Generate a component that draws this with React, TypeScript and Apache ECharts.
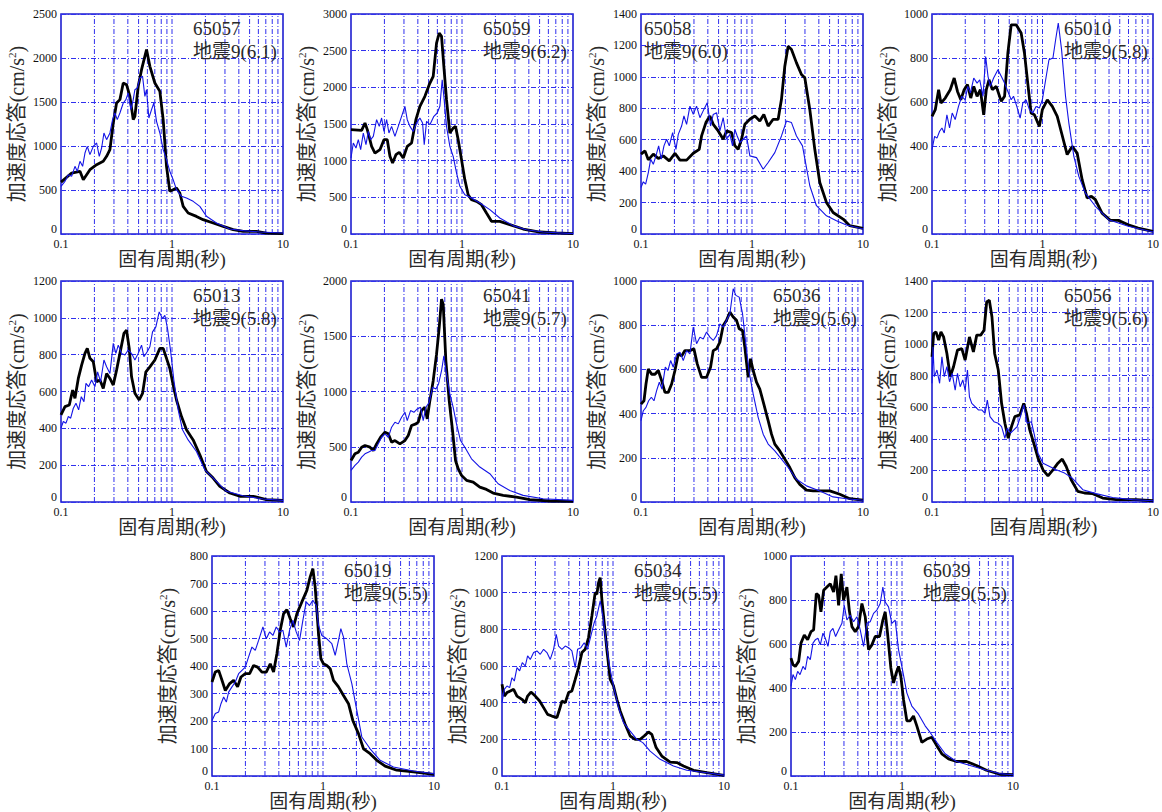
import React, { useEffect, useRef } from "react";
import * as echarts from "echarts";

type Pt = [number, number];

// ---- data: station labels, earthquake labels, axis scales ----
const stations = ["65057", "65059", "65058", "65010", "65013", "65041", "65036", "65056", "65019", "65034", "65039"];
const quakeLabels = ["地震9(6.1)", "地震9(6.2)", "地震9(6.0)", "地震9(5.8)", "地震9(5.8)", "地震9(5.7)", "地震9(5.6)", "地震9(5.6)", "地震9(5.5)", "地震9(5.5)", "地震9(5.5)"];
const yMaxes = [2500, 3000, 1400, 1000, 1200, 2000, 1000, 1400, 800, 1200, 1000];
const yIntervals = [500, 500, 200, 200, 200, 500, 200, 200, 100, 200, 200];
const xMin = 0.1;
const xMax = 10;
const minorPeriods = [0.2, 0.3, 0.4, 0.5, 0.6, 0.7, 0.8, 0.9, 1, 2, 3, 4, 5, 6, 7, 8, 9];
const xAxisTitle = "固有周期(秒)";
const yAxisTitle = "{n|加速度応答(cm/s}{sup|2}{n|)}";

// ---- series values: [period (s), acceleration (cm/s2)] ----
const black65057: Pt[] = [[0.1,590],[0.1247,693],[0.1482,712],[0.1588,617],[0.1823,731],[0.2094,788],[0.2403,826],[0.2575,883],[0.2759,958],[0.2957,1261],[0.3167,1489],[0.3395,1527],[0.3637,1716],[0.3896,1697],[0.4175,1564],[0.4474,1300],[0.4631,1337],[0.4962,1678],[0.5317,1867],[0.5897,2095],[0.6319,1905],[0.7008,1716],[0.7774,1621],[0.8329,1300],[0.8924,769],[0.9563,485],[1.0246,504],[1.098,523],[1.176,466],[1.261,314],[1.398,239],[1.661,200],[1.908,163],[2.348,125],[2.888,87],[3.554,49],[4.372,30],[5.764,30],[7.091,11],[10,4]];
const blue65057: Pt[] = [[0.1,542],[0.1086,598],[0.1164,674],[0.1247,655],[0.1336,769],[0.1402,712],[0.1482,826],[0.1566,769],[0.1644,920],[0.1725,996],[0.1823,902],[0.1954,996],[0.2094,1034],[0.2212,883],[0.2322,977],[0.2437,1148],[0.2575,1072],[0.2759,1148],[0.2916,1300],[0.306,1375],[0.3212,1300],[0.3395,1375],[0.3637,1489],[0.3843,1527],[0.4033,1602],[0.4263,1413],[0.4474,1527],[0.4631,1640],[0.486,1659],[0.5136,1773],[0.5428,1792],[0.5697,1564],[0.5897,1640],[0.6189,1318],[0.6541,1413],[0.6864,1489],[0.7254,1280],[0.7774,1148],[0.8329,958],[0.8924,845],[0.9563,712],[1.0246,617],[1.098,504],[1.218,428],[1.3505,409],[1.551,371],[1.781,314],[2.044,201],[2.516,125],[3.316,57],[4.372,38],[6.176,23],[10,11]];

const black65059: Pt[] = [[0.1,1423],[0.1247,1414],[0.1336,1514],[0.1402,1423],[0.1534,1195],[0.1644,1104],[0.1823,1150],[0.1981,1286],[0.2122,1286],[0.2243,1059],[0.237,968],[0.254,1082],[0.2721,1114],[0.2957,1036],[0.3212,1195],[0.3513,1241],[0.3843,1559],[0.4175,1741],[0.4631,1877],[0.5066,2036],[0.5503,2150],[0.5897,2604],[0.6232,2741],[0.6541,2695],[0.6864,2286],[0.7254,1832],[0.7774,1377],[0.8329,1445],[0.8741,1468],[0.9239,1286],[0.9899,1014],[1.0606,741],[1.1365,536],[1.218,468],[1.3505,445],[1.4985,400],[1.661,286],[1.843,173],[2.19,173],[2.695,127],[3.554,68],[5.02,27],[7.091,14],[10,5]];
const blue65059: Pt[] = [[0.1,1036],[0.1049,1241],[0.1109,1173],[0.1164,1286],[0.1222,1150],[0.1291,1377],[0.1364,1218],[0.1432,1400],[0.1503,1286],[0.1588,1332],[0.1701,1559],[0.1798,1468],[0.1887,1582],[0.1981,1400],[0.2094,1559],[0.2197,1377],[0.2322,1468],[0.2488,1332],[0.2666,1468],[0.2856,1605],[0.306,1741],[0.3212,1559],[0.3395,1468],[0.3637,1400],[0.3896,1514],[0.4175,1582],[0.4413,1514],[0.4568,1218],[0.4794,1536],[0.5136,1491],[0.558,1605],[0.598,1650],[0.6319,1741],[0.6632,2104],[0.6864,1877],[0.7254,1468],[0.7774,1195],[0.8329,1059],[0.8924,832],[0.9563,650],[1.0606,536],[1.218,491],[1.448,423],[1.781,332],[2.19,218],[2.888,114],[3.808,59],[5.38,27],[10,5]];

const black65058: Pt[] = [[0.1,508],[0.1086,529],[0.1164,472],[0.1291,508],[0.1432,480],[0.1588,497],[0.1798,465],[0.2023,514],[0.2243,470],[0.2575,470],[0.2957,514],[0.3348,539],[0.3513,624],[0.3843,709],[0.4175,751],[0.4474,698],[0.4962,656],[0.5503,603],[0.5897,656],[0.6541,645],[0.7008,561],[0.7509,539],[0.8046,603],[0.8621,698],[0.9563,730],[1.0606,751],[1.176,719],[1.278,761],[1.398,687],[1.551,730],[1.7206,730],[1.843,857],[1.975,1068],[2.116,1195],[2.268,1174],[2.516,1089],[2.79,1015],[2.99,994],[3.316,793],[3.678,539],[4.08,328],[4.685,201],[5.38,137],[6.618,95],[7.599,53],[10,36]];
const blue65058: Pt[] = [[0.1,296],[0.1049,332],[0.1101,317],[0.1164,391],[0.1222,476],[0.1291,444],[0.1364,497],[0.1442,561],[0.1523,476],[0.161,561],[0.1701,603],[0.1798,561],[0.1927,645],[0.2065,539],[0.2167,634],[0.2322,687],[0.2437,751],[0.2575,698],[0.2759,814],[0.2957,761],[0.3167,814],[0.3395,740],[0.3687,793],[0.3951,835],[0.4234,687],[0.4474,761],[0.4794,772],[0.5136,656],[0.5503,740],[0.5897,603],[0.6319,634],[0.6678,561],[0.7008,666],[0.7355,624],[0.7774,582],[0.8329,603],[0.8924,624],[0.9563,497],[1.098,486],[1.261,412],[1.398,455],[1.605,518],[1.843,624],[2.044,719],[2.268,709],[2.516,624],[2.849,561],[3.316,307],[3.808,180],[4.685,116],[5.764,85],[7.091,57],[10,32]];

const black65010: Pt[] = [[0.1,535],[0.1071,565],[0.1148,656],[0.1205,595],[0.1318,618],[0.1462,656],[0.1588,709],[0.1701,648],[0.1823,610],[0.1954,656],[0.2094,679],[0.2243,618],[0.2387,671],[0.2558,626],[0.274,656],[0.2936,542],[0.3102,656],[0.3279,701],[0.3513,656],[0.3816,671],[0.4234,603],[0.4536,626],[0.486,823],[0.5208,951],[0.5776,951],[0.6407,914],[0.6864,823],[0.7355,686],[0.7881,550],[0.8444,542],[0.9367,489],[0.9967,565],[1.1055,610],[1.2264,580],[1.3598,535],[1.488,459],[1.672,361],[1.856,398],[2.058,368],[2.284,247],[2.533,164],[2.771,171],[3.011,156],[3.457,95],[4.109,62],[4.849,62],[5.967,42],[7.342,27],[10,12]];
const blue65010: Pt[] = [[0.1,383],[0.1056,444],[0.1109,436],[0.1172,467],[0.123,482],[0.1291,459],[0.1364,542],[0.1442,482],[0.1523,550],[0.1621,520],[0.1737,580],[0.1861,626],[0.1995,610],[0.2108,671],[0.2227,641],[0.2387,709],[0.2558,686],[0.2703,701],[0.2896,626],[0.306,807],[0.3212,717],[0.3371,671],[0.3612,709],[0.3951,747],[0.4234,717],[0.4536,686],[0.486,648],[0.5208,610],[0.5466,626],[0.5856,580],[0.6275,527],[0.6632,595],[0.7106,610],[0.7614,565],[0.8159,550],[0.8741,580],[0.9367,573],[0.9967,610],[1.0681,701],[1.1442,792],[1.2433,800],[1.3147,883],[1.389,959],[1.488,838],[1.616,626],[1.732,504],[1.922,353],[2.131,262],[2.446,186],[3.011,126],[3.969,65],[5.967,35],[10,9]];

const black65013: Pt[] = [[0.1,473],[0.1086,518],[0.1188,527],[0.1273,608],[0.1336,563],[0.1432,671],[0.1534,743],[0.1644,807],[0.1725,834],[0.1823,780],[0.1954,762],[0.2094,653],[0.2243,662],[0.2403,617],[0.2575,698],[0.2759,671],[0.2957,635],[0.3167,716],[0.3395,807],[0.3687,915],[0.3896,933],[0.4118,834],[0.4322,680],[0.4631,590],[0.5066,554],[0.5428,590],[0.5816,707],[0.6319,734],[0.7008,771],[0.7774,834],[0.8329,834],[0.8924,780],[0.9563,725],[1.0246,635],[1.098,554],[1.218,464],[1.3505,392],[1.551,337],[1.781,256],[2.044,166],[2.348,130],[2.695,85],[3.316,49],[4.08,31],[5.38,31],[7.091,13],[10,9]];
const blue65013: Pt[] = [[0.1,401],[0.1049,437],[0.1109,428],[0.1164,464],[0.1222,455],[0.1291,509],[0.1364,536],[0.1442,500],[0.1523,572],[0.161,545],[0.1678,644],[0.1773,626],[0.1887,662],[0.2023,626],[0.2137,707],[0.2274,653],[0.2437,771],[0.2575,734],[0.2759,698],[0.2957,861],[0.3124,807],[0.3279,852],[0.3513,807],[0.3765,798],[0.4033,825],[0.4322,807],[0.4631,771],[0.4962,807],[0.5317,852],[0.558,789],[0.598,816],[0.6319,843],[0.6678,924],[0.7155,951],[0.7667,1032],[0.8215,996],[0.8621,1014],[0.9112,942],[0.9696,825],[1.0389,662],[1.1365,500],[1.2433,392],[1.398,337],[1.661,274],[1.975,175],[2.43,121],[3.095,58],[4.372,34],[6.618,16],[10,9]];

const black65041: Pt[] = [[0.1,376],[0.1086,436],[0.1164,451],[0.1247,496],[0.1336,511],[0.1482,496],[0.1588,466],[0.1701,526],[0.1848,586],[0.2023,632],[0.2167,617],[0.2322,541],[0.2488,556],[0.2759,526],[0.306,556],[0.3279,602],[0.3513,692],[0.3843,707],[0.4033,722],[0.4322,827],[0.4631,857],[0.486,752],[0.5136,917],[0.5503,1098],[0.5897,1338],[0.6232,1579],[0.6541,1835],[0.6771,1790],[0.7155,1278],[0.7667,917],[0.8215,647],[0.8741,376],[0.9239,301],[0.9899,241],[1.098,196],[1.261,180],[1.448,135],[1.661,114],[1.908,81],[2.348,60],[3.095,45],[4.08,21],[6.176,9],[10,6]];
const blue65041: Pt[] = [[0.1,286],[0.1086,331],[0.1164,361],[0.1247,406],[0.1336,436],[0.1432,451],[0.1534,466],[0.1644,466],[0.1761,526],[0.1887,586],[0.2023,617],[0.2167,586],[0.2322,677],[0.2488,722],[0.2666,707],[0.2856,767],[0.306,812],[0.3212,737],[0.3441,827],[0.3687,812],[0.3951,842],[0.4234,857],[0.4474,737],[0.4728,857],[0.5066,902],[0.5428,1038],[0.5816,1023],[0.6147,1068],[0.6541,1188],[0.6864,1323],[0.7254,1158],[0.7774,978],[0.8329,857],[0.8924,707],[0.9696,556],[1.0606,496],[1.218,391],[1.448,316],[1.781,256],[2.116,165],[2.695,105],[3.554,60],[5.38,30],[10,15]];

const black65036: Pt[] = [[0.1,443],[0.1064,458],[0.1109,534],[0.1164,602],[0.1247,578],[0.1336,578],[0.1432,595],[0.1534,549],[0.1644,496],[0.1761,496],[0.1887,534],[0.2023,595],[0.2167,670],[0.2322,661],[0.2488,685],[0.2759,685],[0.2997,693],[0.3212,625],[0.3513,564],[0.3896,564],[0.4234,610],[0.4474,685],[0.4794,693],[0.5136,723],[0.5503,799],[0.5897,822],[0.6319,859],[0.6771,837],[0.7254,822],[0.7667,784],[0.8215,776],[0.8621,700],[0.9239,564],[0.9696,648],[1.0246,595],[1.098,542],[1.176,511],[1.278,443],[1.398,368],[1.4985,307],[1.605,262],[1.781,231],[1.975,194],[2.19,156],[2.43,110],[2.695,80],[3.095,54],[3.554,50],[4.08,50],[5.02,50],[6.176,35],[7.599,15],[10,8]];
const blue65036: Pt[] = [[0.1,368],[0.1049,413],[0.1109,428],[0.1172,458],[0.1239,474],[0.1309,458],[0.1383,504],[0.1462,542],[0.1545,511],[0.1655,610],[0.1749,595],[0.1848,640],[0.1954,610],[0.2094,670],[0.2243,678],[0.2403,640],[0.2575,685],[0.2759,670],[0.2957,791],[0.3167,716],[0.3395,746],[0.3637,738],[0.3896,769],[0.4175,746],[0.4474,731],[0.4794,753],[0.5136,806],[0.5503,791],[0.5897,822],[0.6319,852],[0.6771,965],[0.7155,935],[0.7667,927],[0.8215,852],[0.8802,716],[0.9432,587],[1.0246,489],[1.1365,383],[1.261,307],[1.398,262],[1.605,231],[1.843,194],[2.116,156],[2.516,103],[3.095,73],[4.08,50],[5.38,23],[7.091,15],[10,8]];

const black65056: Pt[] = [[0.1,920],[0.1035,1067],[0.1086,1078],[0.1148,1026],[0.1205,1078],[0.1273,1046],[0.1364,941],[0.1462,794],[0.1566,857],[0.1701,962],[0.1861,972],[0.1995,899],[0.2182,1046],[0.237,951],[0.254,1057],[0.2759,1057],[0.2957,1088],[0.3124,1267],[0.3302,1278],[0.3489,1172],[0.3687,941],[0.3978,836],[0.4263,625],[0.4568,499],[0.4894,404],[0.5244,478],[0.5619,541],[0.6232,552],[0.6771,625],[0.7155,562],[0.7667,457],[0.8329,373],[0.9112,278],[1.0106,204],[1.1209,166],[1.2433,204],[1.379,246],[1.509,272],[1.639,225],[1.818,141],[2.087,67],[2.397,57],[2.849,53],[3.505,25],[4.621,15],[6.994,15],[10,8]];
const blue65056: Pt[] = [[0.1,752],[0.1021,983],[0.1049,794],[0.1109,836],[0.1172,752],[0.123,920],[0.1291,794],[0.1364,857],[0.1442,762],[0.1523,815],[0.1621,709],[0.1701,815],[0.1798,730],[0.19,773],[0.1995,709],[0.2094,836],[0.2182,667],[0.229,625],[0.2454,604],[0.2629,583],[0.2817,583],[0.3018,562],[0.3167,646],[0.3348,541],[0.3637,509],[0.3978,499],[0.4263,478],[0.4568,404],[0.4794,467],[0.5136,436],[0.5503,457],[0.5897,478],[0.6319,541],[0.6771,615],[0.7254,499],[0.7936,509],[0.8503,415],[0.9112,309],[1.0106,246],[1.1603,225],[1.332,204],[1.583,183],[1.856,152],[2.316,78],[3.053,53],[4.312,29],[6.527,15],[10,8]];

const black65019: Pt[] = [[0.1,342],[0.1071,378],[0.1148,384],[0.123,348],[0.1318,311],[0.1442,336],[0.1566,348],[0.1701,324],[0.1823,360],[0.1995,372],[0.2182,372],[0.237,402],[0.2575,396],[0.2817,378],[0.3081,378],[0.3348,408],[0.3587,378],[0.3843,445],[0.4118,530],[0.4413,590],[0.4728,605],[0.5066,572],[0.5428,542],[0.5816,590],[0.6451,633],[0.7155,675],[0.7667,724],[0.8102,754],[0.8503,687],[0.9112,518],[0.9563,427],[1.0106,408],[1.0829,402],[1.1603,390],[1.2433,348],[1.379,324],[1.53,293],[1.697,263],[1.856,202],[2.087,154],[2.316,99],[2.658,81],[3.053,57],[3.628,36],[4.621,21],[6.527,15],[10,6]];
const blue65019: Pt[] = [[0.1,202],[0.1071,227],[0.1148,233],[0.1205,263],[0.1273,287],[0.1346,269],[0.1412,305],[0.1513,324],[0.1621,342],[0.1737,372],[0.1861,384],[0.1995,396],[0.2137,433],[0.229,469],[0.2454,457],[0.2629,493],[0.2876,542],[0.3081,499],[0.3302,524],[0.3538,511],[0.379,542],[0.4061,524],[0.4352,530],[0.4664,469],[0.4997,530],[0.5354,566],[0.5737,524],[0.6147,493],[0.6586,566],[0.7056,633],[0.7561,620],[0.8102,639],[0.868,620],[0.9112,548],[0.9763,511],[1.0829,499],[1.2011,481],[1.287,439],[1.379,493],[1.448,536],[1.53,505],[1.639,408],[1.818,336],[2.016,239],[2.237,142],[2.658,99],[3.271,57],[4.312,33],[6.527,18],[10,8]];

const black65034: Pt[] = [[0.1,500],[0.1049,436],[0.1109,455],[0.1188,464],[0.1273,473],[0.1364,436],[0.1513,418],[0.1621,400],[0.1701,436],[0.1823,458],[0.1995,436],[0.2182,409],[0.237,373],[0.2575,336],[0.2817,327],[0.3124,318],[0.3302,364],[0.3465,409],[0.3713,400],[0.3978,455],[0.4263,464],[0.4568,527],[0.4894,591],[0.5244,673],[0.5619,691],[0.6021,755],[0.6451,873],[0.6912,1000],[0.7155,991],[0.7406,1055],[0.7667,1082],[0.7936,964],[0.8329,836],[0.8802,691],[0.9432,527],[1.0106,491],[1.0829,418],[1.1603,355],[1.287,282],[1.428,218],[1.583,200],[1.756,200],[1.908,218],[2.087,240],[2.237,227],[2.446,155],[2.752,109],[3.271,76],[3.758,73],[4.312,55],[5.306,31],[6.994,18],[10,4]];
const blue65034: Pt[] = [[0.1,400],[0.1049,473],[0.1109,491],[0.1172,482],[0.123,536],[0.1291,518],[0.1364,591],[0.1442,573],[0.1523,618],[0.1621,600],[0.1701,655],[0.1798,636],[0.1927,673],[0.2065,682],[0.2212,664],[0.237,691],[0.254,673],[0.2721,636],[0.2916,691],[0.3081,773],[0.3234,709],[0.3465,691],[0.3713,709],[0.3978,700],[0.4263,682],[0.4568,591],[0.4794,691],[0.5136,700],[0.5503,727],[0.5897,691],[0.6319,764],[0.6771,836],[0.7155,873],[0.7667,955],[0.8102,873],[0.868,727],[0.9303,600],[1.0106,491],[1.1209,373],[1.2433,291],[1.428,245],[1.639,200],[1.856,182],[2.16,136],[2.658,91],[3.505,55],[4.621,31],[6.994,18],[10,5]];

const black65039: Pt[] = [[0.1,536],[0.1042,506],[0.1094,498],[0.1172,521],[0.123,604],[0.1318,641],[0.1412,619],[0.1513,656],[0.1599,664],[0.169,829],[0.1773,821],[0.1861,746],[0.1968,844],[0.2108,859],[0.2258,874],[0.242,836],[0.254,911],[0.2684,776],[0.2836,919],[0.2977,799],[0.3189,859],[0.3348,754],[0.3538,679],[0.379,656],[0.4061,679],[0.4352,784],[0.4664,724],[0.4997,574],[0.5354,596],[0.5737,634],[0.6275,634],[0.6724,709],[0.7056,746],[0.7406,649],[0.7936,491],[0.8385,423],[0.8863,468],[0.9303,498],[0.9763,453],[1.0316,348],[1.1055,251],[1.1845,251],[1.2693,273],[1.3598,228],[1.509,153],[1.672,168],[1.856,176],[2.058,138],[2.284,101],[2.627,78],[3.095,66],[3.808,66],[4.685,48],[5.764,26],[7.599,8],[10,6]];
const blue65039: Pt[] = [[0.1,408],[0.1042,461],[0.1094,438],[0.1148,476],[0.1205,461],[0.1282,498],[0.1346,483],[0.1412,544],[0.1492,529],[0.1577,604],[0.1655,619],[0.1749,626],[0.1836,596],[0.194,649],[0.2037,626],[0.2152,589],[0.2258,656],[0.2387,671],[0.2522,634],[0.2684,664],[0.2876,694],[0.3018,776],[0.3189,709],[0.3418,731],[0.3662,701],[0.3924,724],[0.4204,664],[0.4505,589],[0.4828,694],[0.5172,701],[0.5543,739],[0.5938,754],[0.6362,784],[0.6724,859],[0.7056,791],[0.7561,769],[0.8102,694],[0.868,709],[0.9303,574],[0.9969,498],[1.1055,378],[1.2262,318],[1.408,281],[1.616,228],[1.793,198],[2.058,153],[2.446,101],[3.095,66],[4.109,48],[5.764,26],[7.599,11],[10,6]];

const blackSeries: Pt[][] = [black65057, black65059, black65058, black65010, black65013, black65041, black65036, black65056, black65019, black65034, black65039];
const blueSeries: Pt[][] = [blue65057, blue65059, blue65058, blue65010, blue65013, blue65041, blue65036, blue65056, blue65019, blue65034, blue65039];

// ---- layout (pixel boxes of each plot area, title offset) ----
const panelBoxes = [
  { left: 61, top: 14, width: 222, height: 220, titleDx: 132 },
  { left: 351, top: 14, width: 222, height: 220, titleDx: 132 },
  { left: 641, top: 14, width: 222, height: 220, titleDx: 3 },
  { left: 932, top: 14, width: 223, height: 220, titleDx: 132 },
  { left: 61, top: 281, width: 222, height: 221, titleDx: 132 },
  { left: 351, top: 281, width: 222, height: 221, titleDx: 132 },
  { left: 641, top: 281, width: 222, height: 221, titleDx: 132 },
  { left: 932, top: 281, width: 223, height: 221, titleDx: 132 },
  { left: 212, top: 556, width: 222, height: 220, titleDx: 132 },
  { left: 502, top: 556, width: 222, height: 220, titleDx: 132 },
  { left: 791, top: 556, width: 222, height: 220, titleDx: 132 },
];

const SERIF = '"Liberation Serif", "Noto Sans CJK JP", serif';
const GRID_BLUE = "#3030ee";
const DASH = [5, 2, 1, 2];
const TEXT_COLOR = "#2a2a2a";

function buildOption() {
  const grid: any[] = [];
  const xAxis: any[] = [];
  const yAxis: any[] = [];
  const series: any[] = [];
  const graphic: any[] = [];

  panelBoxes.forEach((b, i) => {
    grid.push({
      left: b.left,
      top: b.top,
      width: b.width,
      height: b.height,
      show: true,
      borderColor: "#1f1fd0",
      borderWidth: 1.6,
      backgroundColor: "transparent",
      containLabel: false,
    });
    xAxis.push({
      type: "log",
      logBase: 10,
      gridIndex: i,
      min: xMin,
      max: xMax,
      axisLine: { show: false },
      axisTick: { show: false },
      splitLine: { show: false },
      axisLabel: { fontSize: 12, lineHeight: 11, fontFamily: SERIF, color: "#111", margin: 4, formatter: (v: number) => String(v) },
    });
    yAxis.push({
      type: "value",
      gridIndex: i,
      min: 0,
      max: yMaxes[i],
      interval: yIntervals[i],
      axisLine: { show: false },
      axisTick: { show: false },
      splitLine: { show: true, lineStyle: { color: GRID_BLUE, width: 1, type: DASH } },
      axisLabel: {
        fontSize: 12,
        lineHeight: 11,
        fontFamily: SERIF,
        color: "#111",
        margin: 4,
        verticalAlignMinLabel: "bottom",
        formatter: (v: number) => String(v),
      },
    });
    // vertical period gridlines as broken line segments spanning the axis range
    const gridData: any[] = [];
    minorPeriods.forEach((p) => {
      gridData.push([p, 0], [p, yMaxes[i]], [p, "-"]);
    });
    series.push({
      type: "line",
      xAxisIndex: i,
      yAxisIndex: i,
      data: gridData,
      connectNulls: false,
      showSymbol: false,
      silent: true,
      color: GRID_BLUE,
      lineStyle: { color: GRID_BLUE, width: 1, type: DASH },
      z: 1,
    });
    series.push({
      type: "line",
      name: stations[i] + "-black",
      xAxisIndex: i,
      yAxisIndex: i,
      data: blackSeries[i],
      showSymbol: false,
      color: "#000",
      lineStyle: { color: "#000", width: 2.8 },
      z: 3,
    });
    series.push({
      type: "line",
      name: stations[i] + "-blue",
      xAxisIndex: i,
      yAxisIndex: i,
      data: blueSeries[i],
      showSymbol: false,
      color: "#1414e6",
      lineStyle: { color: "#1414e6", width: 1.1 },
      z: 4,
    });
    const tx = b.left + b.titleDx;
    graphic.push({
      type: "text",
      x: tx,
      y: b.top + 14.5,
      z: 100,
      style: { text: stations[i], fontSize: 19, fontFamily: SERIF, fill: TEXT_COLOR, verticalAlign: "middle", align: "left" },
    });
    graphic.push({
      type: "text",
      x: tx,
      y: b.top + 37,
      z: 100,
      style: { text: quakeLabels[i], fontSize: 19, fontFamily: SERIF, fill: TEXT_COLOR, verticalAlign: "middle", align: "left" },
    });
    // axis titles
    graphic.push({
      type: "text",
      x: b.left + b.width / 2,
      y: b.top + b.height + 16,
      z: 100,
      style: { text: xAxisTitle, fontSize: 19, lineHeight: 19, fontFamily: SERIF, fill: TEXT_COLOR, verticalAlign: "top", align: "center" },
    });
    graphic.push({
      type: "text",
      x: b.left - 44,
      y: b.top + b.height / 2,
      rotation: Math.PI / 2,
      z: 100,
      style: {
        text: yAxisTitle,
        fontSize: 20,
        fontFamily: SERIF,
        fill: TEXT_COLOR,
        verticalAlign: "middle",
        align: "center",
        rich: {
          n: { fontSize: 20, fontFamily: SERIF, fill: TEXT_COLOR, lineHeight: 22 },
          sup: { fontSize: 11, fontFamily: SERIF, fill: TEXT_COLOR, verticalAlign: "top", lineHeight: 22 },
        },
      },
    });
  });

  return {
    animation: false,
    backgroundColor: "#ffffff",
    grid,
    xAxis,
    yAxis,
    series,
    graphic,
  };
}

export default function App() {
  const ref = useRef<HTMLDivElement>(null);
  useEffect(() => {
    if (!ref.current) return;
    const chart = echarts.init(ref.current, null, { renderer: "svg" });
    chart.setOption(buildOption());
    return () => chart.dispose();
  }, []);
  return (
    <div
      ref={ref}
      style={{ position: "absolute", left: 0, top: 0, width: 1162, height: 812, background: "#fff" }}
    />
  );
}
